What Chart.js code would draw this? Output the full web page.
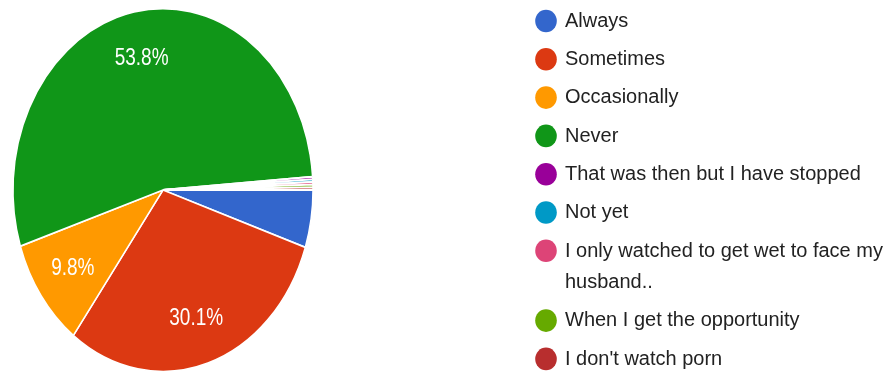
<!DOCTYPE html>
<html>
<head>
<meta charset="utf-8">
<script src="https://cdn.jsdelivr.net/npm/chart.js@4.4.1/dist/chart.umd.min.js"></script>
<style>
  html, body { margin: 0; padding: 0; background: #fff; }
  #wrap { width: 888px; height: 376px; }
</style>
</head>
<body>
<div id="wrap"><canvas id="answersPie" width="888" height="376"></canvas></div>
<script>
const answerLabels = [
  "Always",
  "Sometimes",
  "Occasionally",
  "Never",
  "That was then but I have stopped",
  "Not yet",
  ["I only watched to get wet to face my", "husband.."],
  "When I get the opportunity",
  "I don't watch porn"
];
const answerCounts = [22, 129, 42, 231, 1, 1, 1, 1, 1];
const answerColors = ["#3366cc", "#dc3912", "#ff9900", "#109618", "#990099", "#0099c6", "#dd4477", "#66aa00", "#b82e2e"];

const FONT = '"Liberation Sans", Arial, sans-serif';
const PIE_STRETCH = 1.21;   // the pie is drawn as an upright oval
const LABEL_MIN_SHARE = 0.08;

const totalAnswers = answerCounts.reduce((sum, value) => sum + value, 0);

// stretch the pie vertically around its centre, then print the percentages
const ovalPie = {
  id: "ovalPie",
  beforeDatasetsDraw(chart) {
    const arc = chart.getDatasetMeta(0).data[0];
    const { ctx } = chart;
    ctx.save();
    ctx.translate(arc.x, arc.y);
    ctx.scale(1, PIE_STRETCH);
    ctx.translate(-arc.x, -arc.y);
  },
  afterDatasetsDraw(chart) {
    const { ctx } = chart;
    ctx.restore();

    ctx.save();
    ctx.fillStyle = "#ffffff";
    ctx.font = `19px ${FONT}`;
    ctx.textAlign = "center";
    ctx.textBaseline = "middle";
    chart.getDatasetMeta(0).data.forEach((arc, index) => {
      const share = answerCounts[index] / totalAnswers;
      if (share < LABEL_MIN_SHARE) return;
      const { x, y, startAngle, endAngle, outerRadius } =
        arc.getProps(["x", "y", "startAngle", "endAngle", "outerRadius"], true);
      const mid = (startAngle + endAngle) / 2;
      const r = outerRadius * 0.74;
      ctx.save();
      ctx.translate(x + Math.cos(mid) * r, y + Math.sin(mid) * r * PIE_STRETCH);
      ctx.scale(1, 1.3);
      ctx.fillText(`${(share * 100).toFixed(1)}%`, 0, 0);
      ctx.restore();
    });
    ctx.restore();
  }
};

// legend column on the right: round markers and wrapped labels
const sideLegend = {
  id: "sideLegend",
  afterDraw(chart) {
    const { ctx } = chart;
    const dotX = 546;
    const textX = 565;
    const rowStep = 38.3;
    const lineStep = 31.5;
    let rowY = 21;

    ctx.save();
    ctx.font = `20px ${FONT}`;
    ctx.textAlign = "left";
    ctx.textBaseline = "middle";
    chart.data.labels.forEach((label, index) => {
      ctx.fillStyle = answerColors[index];
      ctx.beginPath();
      ctx.ellipse(dotX, rowY, 10.8, 11.3, 0, 0, Math.PI * 2);
      ctx.fill();

      const lines = Array.isArray(label) ? label : [label];
      ctx.fillStyle = "#222222";
      lines.forEach((line, lineIndex) => {
        ctx.save();
        ctx.translate(textX, rowY + lineIndex * lineStep);
        ctx.scale(1, 1.05);
        ctx.fillText(line, 0, 0);
        ctx.restore();
      });
      rowY += rowStep + (lines.length - 1) * lineStep;
    });
    ctx.restore();
  }
};

new Chart(document.getElementById("answersPie"), {
  type: "pie",
  data: {
    labels: answerLabels,
    datasets: [
      {
        data: answerCounts,
        backgroundColor: answerColors,
        borderColor: "#ffffff",
        borderWidth: 1.5,
        radius: 150,
        clip: false
      }
    ]
  },
  options: {
    responsive: false,
    animation: false,
    rotation: 90,
    layout: { padding: { left: 13, right: 575, top: 13, bottom: 9 } },
    plugins: {
      legend: { display: false },
      tooltip: { enabled: false }
    }
  },
  plugins: [ovalPie, sideLegend]
});
</script>
</body>
</html>
